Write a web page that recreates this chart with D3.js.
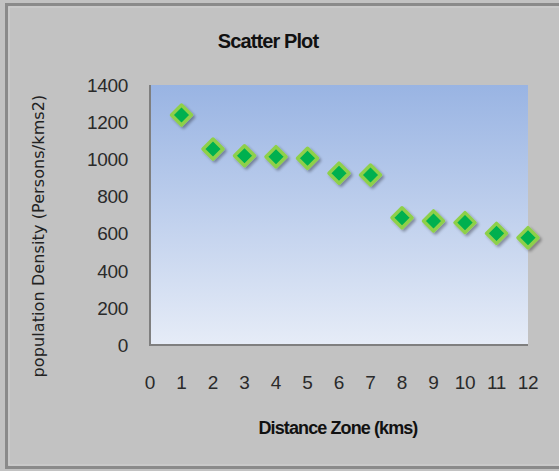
<!DOCTYPE html>
<html><head><meta charset="utf-8">
<script src="https://cdn.jsdelivr.net/npm/d3@7"></script>
<style>body{margin:0;background:#c2c2c2;}svg{display:block;}</style>
</head><body>
<svg id="chart" width="559" height="471"></svg>
<script>
const zones = [1,2,3,4,5,6,7,8,9,10,11,12];
const density = [1238,1055,1019,1014,1005,925,915,685,668,659,601,578];
const xTicks = [0,1,2,3,4,5,6,7,8,9,10,11,12];
const yTicks = [0,200,400,600,800,1000,1200,1400];

const svg = d3.select("#chart");
const W = 559, H = 471;
// frame
svg.append("rect").attr("x",0).attr("y",0).attr("width",W).attr("height",H).attr("fill","#c2c2c2");
svg.append("rect").attr("x",6.5).attr("y",4.5).attr("width",W).attr("height",H-8).attr("fill","none").attr("stroke","#8a8a8a").attr("stroke-width",3);
svg.append("rect").attr("x",9).attr("y",7).attr("width",W).attr("height",H-13).attr("fill","none").attr("stroke","#d0d0d0").attr("stroke-width",1);

const pLeft=150, pRight=528, pTop=85, pBottom=345;
const x = d3.scaleLinear().domain([0,12]).range([pLeft,pRight]);
const y = d3.scaleLinear().domain([0,1400]).range([pBottom,pTop]);

const defs = svg.append("defs");
const g = defs.append("linearGradient").attr("id","bg").attr("x1",0).attr("y1",0).attr("x2",0).attr("y2",1);
g.append("stop").attr("offset","0%").attr("stop-color","#99b4e3");
g.append("stop").attr("offset","100%").attr("stop-color","#e6ecf7");
const f = defs.append("filter").attr("id","sh").attr("x","-50%").attr("y","-50%").attr("width","200%").attr("height","200%");
f.append("feGaussianBlur").attr("in","SourceAlpha").attr("stdDeviation",1.5).attr("result","b");
f.append("feOffset").attr("in","b").attr("dx",2).attr("dy",2).attr("result","o");
f.append("feComponentTransfer").attr("in","o").attr("result","o2").append("feFuncA").attr("type","linear").attr("slope",0.35);
const m = f.append("feMerge"); m.append("feMergeNode").attr("in","o2"); m.append("feMergeNode").attr("in","SourceGraphic");

svg.append("rect").attr("x",pLeft).attr("y",pTop).attr("width",pRight-pLeft).attr("height",pBottom-pTop).attr("fill","url(#bg)");

// axis lines
svg.append("line").attr("x1",pLeft).attr("x2",pLeft).attr("y1",pTop).attr("y2",pBottom+1).attr("stroke","#7f7f7f").attr("stroke-width",2);
svg.append("line").attr("x1",pLeft-1).attr("x2",pRight).attr("y1",pBottom).attr("y2",pBottom).attr("stroke","#7f7f7f").attr("stroke-width",2);

const font = "Liberation Sans, Arial, sans-serif";
// y ticks
svg.selectAll(".yt").data(yTicks).enter().append("text")
  .attr("x",128).attr("y",d=>y(d)).attr("dy","0.36em").attr("text-anchor","end")
  .attr("font-family",font).attr("font-size",19).attr("fill","#2a2a2a").attr("letter-spacing","-0.3").text(d=>d);
// x ticks
svg.selectAll(".xt").data(xTicks).enter().append("text")
  .attr("x",d=>x(d)).attr("y",382).attr("dy","0.36em").attr("text-anchor","middle")
  .attr("font-family",font).attr("font-size",19).attr("fill","#2a2a2a").attr("letter-spacing","-0.3").text(d=>d);

// points
const s = 10;
const pts = svg.selectAll(".p").data(zones.map((z,i)=>({z, v:density[i]}))).enter().append("g")
  .attr("transform",d=>`translate(${x(d.z)},${y(d.v)})`).attr("filter","url(#sh)");
pts.append("path").attr("d",`M0,${-s}L${s},0L0,${s}L${-s},0Z`).attr("fill","#00b050").attr("stroke","#8ed04a").attr("stroke-width",3.5).attr("stroke-linejoin","round");

// titles
svg.append("text").attr("x",268).attr("y",48).attr("text-anchor","middle")
  .attr("font-family",font).attr("font-weight","bold").attr("font-size",20).attr("letter-spacing","-0.9").attr("fill","#111").text("Scatter Plot");
svg.append("text").attr("x",338).attr("y",434).attr("text-anchor","middle")
  .attr("font-family",font).attr("font-weight","bold").attr("font-size",18).attr("letter-spacing","-0.9").attr("fill","#111").text("Distance Zone (kms)");
svg.append("text").attr("transform","translate(44,236) rotate(-90)").attr("text-anchor","middle")
  .attr("font-family","DejaVu Sans, sans-serif").attr("font-size",16).attr("letter-spacing","0.1").attr("fill","#222").text("population Density (Persons/kms2)");
</script>
</body></html>
